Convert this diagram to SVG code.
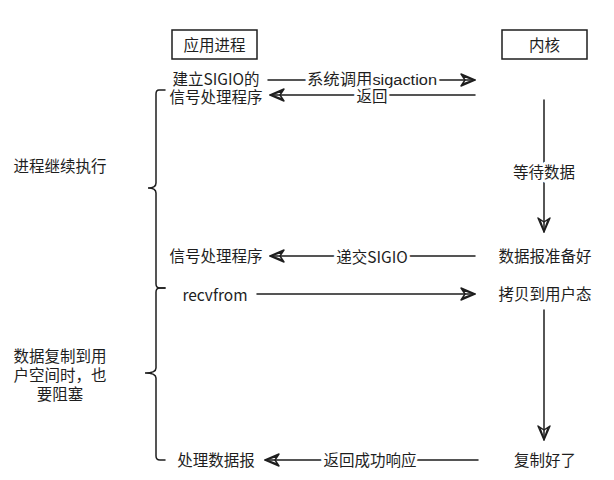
<svg xmlns="http://www.w3.org/2000/svg" width="614" height="480" viewBox="0 0 614 480">
<style>
text{font-family:"Noto Sans CJK SC","Noto Sans",sans-serif;font-size:15.5px;fill:#1e1e1e;dominant-baseline:central}
text.cj{font-family:"Liberation Sans","Noto Sans CJK SC",sans-serif}
.c{text-anchor:middle}
.lbl{text-anchor:middle;stroke:#fff;stroke-width:6;paint-order:stroke;stroke-linejoin:round}
.ln{stroke:#1e1e1e;stroke-width:1.5;fill:none;stroke-linecap:round}
.box{fill:#fff;stroke:#1e1e1e;stroke-width:1.5}
</style>
<defs>
<marker id="ah" viewBox="0 0 16 14" refX="15" refY="7" markerWidth="16" markerHeight="14" markerUnits="userSpaceOnUse" orient="auto">
<path d="M1,1 L15,7 L1,13 L5,7 Z M3,3 L14,7 L3,11" fill="none" stroke="#1e1e1e" stroke-width="1.4" stroke-linejoin="round"/>
</marker>
</defs>
<g id="node-app"><rect class="box" x="172" y="30" width="85" height="29"/><text class="c cj" x="214.5" y="45">应用进程</text></g>
<g id="node-kernel"><rect class="box" x="502" y="30" width="85" height="29"/><text class="c cj" x="544.5" y="45">内核</text></g>
<g id="node-setup"><text class="c" x="216" y="78">建立SIGIO的</text><text class="c cj" x="216" y="97.5">信号处理程序</text></g>
<g id="node-handler"><text class="c cj" x="216" y="256">信号处理程序</text></g>
<g id="node-recvfrom"><text class="c" x="215" y="294">recvfrom</text></g>
<g id="node-process"><text class="c cj" x="216" y="460">处理数据报</text></g>
<g id="node-ready"><text class="c cj" x="545" y="256">数据报准备好</text></g>
<g id="node-copy"><text class="c cj" x="545" y="294">拷贝到用户态</text></g>
<g id="node-done"><text class="c cj" x="545" y="460">复制好了</text></g>
<g id="note-continue"><text class="c cj" x="60" y="166">进程继续执行</text></g>
<g id="note-block"><text class="c cj" x="60" y="356">数据复制到用</text><text class="c cj" x="60" y="375">户空间时，也</text><text class="c cj" x="60" y="394">要阻塞</text></g>
<g id="connectors">
<path class="ln" d="M268,80 L475,80" marker-end="url(#ah)"/>
<text class="lbl cj" x="372" y="79" textLength="130" lengthAdjust="spacingAndGlyphs">系统调用sigaction</text>
<path class="ln" d="M475,95 L270,95" marker-end="url(#ah)"/>
<text class="lbl cj" x="372" y="96.5">返回</text>
<path class="ln" d="M544,100 L544,232" marker-end="url(#ah)"/>
<text class="lbl cj" x="544" y="172">等待数据</text>
<path class="ln" d="M475,256 L270,256" marker-end="url(#ah)"/>
<text class="lbl" x="372" y="256">递交SIGIO</text>
<path class="ln" d="M257,294 L475,294" marker-end="url(#ah)"/>
<path class="ln" d="M544,310 L544,440" marker-end="url(#ah)"/>
<path class="ln" d="M478,460 L265,460" marker-end="url(#ah)"/>
<text class="lbl cj" x="370" y="460">返回成功响应</text>
<path class="ln" d="M165,90 L159,90 Q156,90 156,94 L156,183 Q156,188 148,188 Q156,188 156,193 L156,284 Q156,288 160,288 L165,288"/>
<path class="ln" d="M165,288 L160,288 Q156,288 156,292 L156,368 Q156,373 145,373 Q156,373 156,378 L156,456 Q156,460 160,460 L165,460"/>
</g>
</svg>
